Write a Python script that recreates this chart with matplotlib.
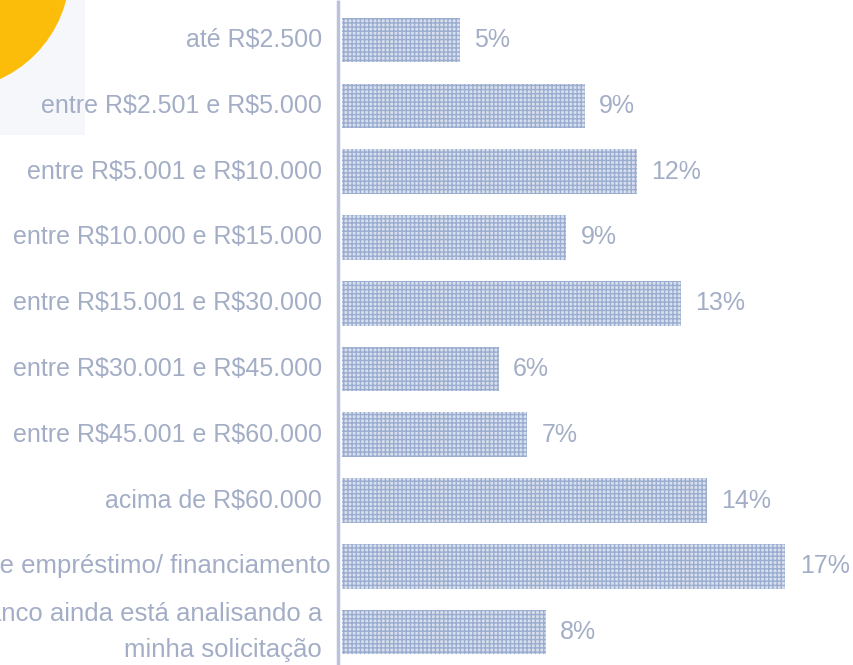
import matplotlib
matplotlib.use("Agg")
import matplotlib.pyplot as plt
from matplotlib.patches import Ellipse, Rectangle
from matplotlib.transforms import blended_transform_factory

categories = [
    "até R\\$2.500",
    "entre R\\$2.501 e R\\$5.000",
    "entre R\\$5.001 e R\\$10.000",
    "entre R\\$10.000 e R\\$15.000",
    "entre R\\$15.001 e R\\$30.000",
    "entre R\\$30.001 e R\\$45.000",
    "entre R\\$45.001 e R\\$60.000",
    "acima de R\\$60.000",
    "não obtive empréstimo/ financiamento",
    "o banco ainda está analisando a\nminha solicitação",
]
values = [4.5, 9.3, 11.3, 8.6, 13.0, 6.0, 7.1, 14.0, 17.0, 7.8]
value_labels = ["5%", "9%", "12%", "9%", "13%", "6%", "7%", "14%", "17%", "8%"]

W, H = 854, 665
fig = plt.figure(figsize=(W / 100, H / 100), dpi=100)
fig.patch.set_facecolor("white")

# faint panel and yellow circle in the corner
fig.add_artist(Rectangle((0, 1 - 135 / H), 85 / W, 135 / H, transform=fig.transFigure,
                         facecolor="#f6f7fa", edgecolor="none", zorder=0))
fig.add_artist(Ellipse((-50 / W, 1 + 30 / H), 240 / W, 240 / H, transform=fig.transFigure,
                       facecolor="#fbbd0a", edgecolor="none", zorder=1))

px_per_unit = 26.06
x0 = 341
ax = fig.add_axes([x0 / W, 0, 1 - x0 / W, 1])
ax.set_facecolor("none")
ax.set_xlim(0, (W - x0) / px_per_unit)
ax.set_ylim(9.5, -0.61)

plt.rcParams["hatch.linewidth"] = 1.0
bar_color = "#d8dfed"
hatch_color = "#9aadd0"
text_color = "#a3aec6"

y = list(range(len(categories)))
ax.barh(y, values, height=0.68, left=0.05, color=bar_color, edgecolor=hatch_color,
        linewidth=0, hatch="++++", zorder=2)

for yi, v, lab in zip(y, values, value_labels):
    ax.text(v + 0.6, yi, lab, va="center", ha="left", fontsize=18,
            family="Liberation Sans", color=text_color)

trans = blended_transform_factory(fig.transFigure, ax.transData)
for yi, cat in zip(y, categories):
    right = 331 if yi == 8 else 322
    size = 18.5 if yi >= 8 else 18
    ax.text(right / W, yi, cat, transform=trans, ha="right", va="center",
            multialignment="right", fontsize=size, family="Liberation Sans",
            color=text_color, linespacing=1.6, clip_on=False, zorder=1)

ax.set_yticks([])
ax.set_xticks([])
for s in ["top", "right", "bottom"]:
    ax.spines[s].set_visible(False)
ax.spines["left"].set_color("#b9c3d9")
ax.spines["left"].set_linewidth(2.5)
ax.spines["left"].set_linestyle((0, (1, 1)))
ax.spines["left"].set_position(("data", -0.1))

fig.savefig("out.png", dpi=100)
